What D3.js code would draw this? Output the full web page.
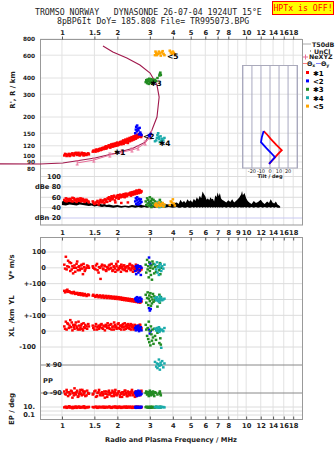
<!DOCTYPE html>
<html>
<head>
<meta charset="utf-8">
<script src="https://cdn.jsdelivr.net/npm/d3@7"></script>
<style>
body { margin: 0; background: #fff; }
svg { display: block; }
text { font-family: "DejaVu Sans", sans-serif; fill: #222; }
.mono { font-family: "DejaVu Sans Mono", monospace; }
</style>
</head>
<body>
<svg id="ionogram" width="335" height="451"></svg>
<script>
// tick labels
const topTicks = [1, 1.5, 2, 3, 4, 5, 6, 7, 8, 10, 12, 14, 16, 18]
const midTicks = [1, 1.5, 2, 3, 4, 5, 6, 7, 8, 9, 10, 12, 14, 16, 18]
const heightTicks = [80, 90, 100, 120, 150, 200, 300, 400, 600, 800]
const ampLabels = [[100, "100"], [80, "dBe 80"], [60, "60"], [40, "40"], [20, "dBn 20"]]
const dopLabels = [[100, "100"], [0, "0"], [-100, "+-100"], [-200, "0"], [-300, "+-100"], [-400, "0"], [-500, "-100"]]
const ppLabels = [[90, "x 90"], [-90, "o -90"]]
const epLabels = [[10, "10."], [0.1, "0.1"]]
const tiltTicks = [-20, -10, 0, 10, 20]

// echoes: [freq MHz, height km, amplitude dB, V* m/s, YL km, XL km, PP deg, EP deg]
const trace1 = [
  [1.03,101,55,20,55,30,-80,8],[1.04,104,53,-5,45,15,-95,10],[1.05,103,58,70,50,60,-100,12],
  [1.06,100,52,-10,58,10,-70,6],[1.07,102,57,10,62,50,-85,7],[1.08,102,56,45,48,45,-110,9],
  [1.09,104,53,5,52,20,-85,15],[1.1,100,55,35,50,35,-100,13],[1.11,101,57,-20,46,70,-95,7],
  [1.12,103,54,30,44,25,-75,10],[1.13,104,52,-10,40,55,-80,9],[1.14,105,59,10,45,5,-120,5],
  [1.15,102,52,-35,40,40,-90,11],[1.16,101,58,0,48,25,-105,6],[1.17,104,56,15,42,15,-60,8],
  [1.18,105,54,-25,35,40,-90,11],[1.19,106,55,0,38,55,-100,13],[1.2,103,51,25,37,30,-85,6],
  [1.21,102,56,40,42,20,-75,8],[1.22,105,57,-15,36,10,-115,9],[1.23,106,53,5,30,60,-110,12],
  [1.24,102,54,10,35,35,-95,12],[1.25,101,55,-15,40,10,-85,7],[1.26,104,58,-5,33,20,-70,7],
  [1.27,103,52,15,28,35,-95,10],[1.28,106,53,20,34,45,-105,10],[1.29,105,57,-5,38,15,-70,9],
  [1.3,103,56,-40,30,5,-80,8],[1.31,101,54,25,25,50,-100,13],[1.32,105,52,5,31,25,-90,14],
  [1.33,104,51,-20,35,20,-80,6],[1.34,102,55,-10,29,40,-110,6],[1.36,102,55,0,22,30,-105,10],
  [1.37,104,53,15,28,15,-75,9],[1.39,105,52,10,32,45,-90,8],[1.4,103,50,0,27,30,-95,11],
  [1.47,108,52,10,24,35,-100,10],[1.48,110,50,0,30,20,-95,9],[1.5,110,47,-5,23,10,-80,8],
  [1.52,108,48,-10,16,30,-75,11],[1.53,112,50,15,22,45,-115,12],[1.55,112,51,25,28,10,-110,7],
  [1.56,109,53,-15,21,25,-90,6],[1.58,110,46,-30,14,35,-85,12],[1.59,113,49,5,20,15,-70,9],
  [1.61,114,52,0,26,25,-100,8],[1.62,111,55,-70,20,40,-105,11],[1.64,112,50,10,12,45,-90,10],
  [1.65,115,51,20,19,20,-85,8],[1.67,116,53,-5,25,15,-105,9],[1.68,113,54,-10,18,35,-95,13],
  [1.7,114,49,15,10,30,-80,7],[1.71,117,56,10,17,5,-120,7],[1.73,119,55,-15,23,40,-95,11],
  [1.74,114,52,-20,17,30,-80,10],[1.76,116,51,5,9,20,-115,8],[1.77,118,58,0,16,50,-100,9],
  [1.79,120,57,-10,22,35,-85,10],[1.8,121,60,15,15,20,-75,12],[1.82,118,53,20,8,15,-100,12],
  [1.83,116,55,-5,14,40,-90,8],[1.85,123,59,0,20,45,-90,7],[1.86,120,62,25,14,10,-110,6],
  [1.88,118,56,-20,6,25,-75,9],[1.89,124,58,-15,13,30,-85,11],[1.91,122,61,10,18,10,-110,11],
  [1.92,119,63,5,12,55,-95,9],[1.94,125,54,-5,4,40,-85,8],[1.95,122,50,-25,12,25,-70,14],
  [1.97,120,59,25,17,30,-100,10],[1.98,126,61,10,11,15,-105,7],[2.0,127,62,-15,3,20,-95,6],
  [2.01,121,64,40,10,45,-90,10],[2.03,122,57,0,15,50,-80,12],[2.04,125,59,-10,9,20,-80,8],
  [2.06,126,63,10,1,15,-105,9],[2.07,128,65,0,8,35,-115,12],[2.09,129,60,-25,13,35,-90,7],
  [2.1,123,49,20,8,10,-95,6],[2.12,126,64,5,-2,25,-115,10],[2.13,129,63,-5,6,40,-85,9],
  [2.15,132,61,-10,10,45,-85,8],[2.16,124,66,15,5,25,-100,11],[2.18,127,65,15,-4,10,-100,11],
  [2.19,131,60,-15,4,50,-75,8],[2.21,134,62,0,8,30,-75,9],[2.22,127,67,5,3,15,-90,13],
  [2.24,129,66,-20,-6,40,-95,7],[2.25,133,62,-20,2,30,-110,7],[2.27,136,64,10,6,20,-110,12],
  [2.28,126,50,10,1,45,-80,10],[2.3,131,67,-5,-8,35,-85,8],[2.31,134,66,0,0,20,-95,9],
  [2.33,138,65,20,4,15,-100,10],[2.34,130,68,25,-1,35,-105,12],[2.36,133,69,-15,-10,45,-90,9],
  [2.37,137,63,-10,-2,10,-85,8],[2.39,140,66,0,2,25,-80,11],[2.4,132,69,15,-3,40,-70,6],
  [2.42,135,70,10,-12,30,-105,7],[2.43,139,65,-25,-4,25,-100,11],[2.45,142,68,-10,0,10,-95,10],
  [2.46,134,70,5,-5,15,-90,9],[2.48,137,71,5,-14,40,-85,8],[2.49,141,66,-5,-6,35,-115,7],
  [2.51,144,69,-20,-2,20,-110,12],[2.52,136,71,20,-7,20,-80,10],[2.54,139,73,15,-16,35,-90,9],
  [2.55,143,67,-15,-8,30,-95,8],[2.57,146,70,0,-4,15,-100,7],[2.58,139,72,0,-9,10,-105,12],
  [2.6,141,72,-5,-18,30,-80,11],[2.61,145,68,10,-10,25,-85,9],[2.63,148,74,10,-6,25,-95,8],
  [2.64,141,73,-20,-11,40,-100,6],[2.66,143,70,-15,-20,40,-105,10],[2.67,147,69,5,-12,15,-90,10],
  [2.69,140,72,0,-8,10,-85,9],[2.7,144,71,-10,-13,20,-75,8]
]
const trace2 = [
  [2.5,150,52,-20,5,20,-90,8],[2.52,160,58,10,-5,5,-80,12],[2.53,168,47,-40,10,30,-100,6],
  [2.55,155,55,0,-10,15,-110,10],[2.56,172,60,-10,15,25,-85,9],[2.58,163,50,15,0,10,-95,7],
  [2.6,158,46,-30,-15,35,-75,11],[2.62,147,57,5,8,0,-105,8],[2.64,165,53,-15,-8,20,-90,10],
  [2.66,152,48,10,12,15,-80,9],[2.68,148,56,-45,-12,25,-100,7],[2.7,145,51,0,3,5,-95,12],
  [2.97,145,50,65,-55,10,-90,8],[3.0,142,47,30,-70,-15,-85,9],[3.03,148,45,20,-60,0,-95,7]
]
const trace3 = [
  [2.85,372,52,20,30,40,-90,9],[2.87,385,45,-30,-20,10,-80,12],[2.9,365,58,50,10,-30,-100,8],
  [2.92,390,48,-10,45,20,-95,10],[2.94,378,55,10,-35,-50,-85,7],[2.96,360,43,-60,5,60,-110,11],
  [2.98,395,50,35,25,-70,-90,9],[3.0,370,60,-20,-10,0,-75,8],[3.02,382,46,0,40,-90,-95,10],
  [3.04,368,53,-45,-40,30,-105,12],[3.06,392,41,15,15,-20,-85,7],[3.08,375,57,-75,-25,-60,-100,9],
  [3.1,362,49,40,0,10,-90,11],[3.12,386,44,-5,35,-40,-80,8],[3.14,372,55,25,-15,-80,-95,10],
  [3.17,380,47,-35,20,15,-110,9],[3.2,388,52,5,-5,-30,-85,7],[3.24,378,45,-25,10,-55,-90,12],
  [3.3,400,50,10,-45,-10,-100,8],[3.38,418,48,-15,30,-75,-90,10],[3.4,430,55,30,-20,5,-80,9],
  [3.42,440,43,-40,0,-45,-95,11],[3.44,422,50,0,15,-85,-105,8]
]
const trace4 = [
  [3.2,130,46,20,10,15,110,9],[3.25,132,43,-10,-5,5,80,12],[3.28,138,49,35,15,20,100,8],
  [3.3,145,42,-30,0,0,70,10],[3.33,150,51,5,-10,10,95,11],[3.36,140,45,-45,5,25,125,7],
  [3.38,135,41,15,-15,-5,85,9],[3.4,128,48,0,20,15,60,10],[3.43,142,44,25,0,5,105,8],
  [3.46,130,47,-20,10,-105,90,12],[3.5,136,42,10,-5,10,115,9],[3.55,132,46,-5,0,0,75,10],
  [3.6,138,43,20,5,20,100,8]
]
// trace 5 has only height and amplitude
const trace5 = [
  [3.2,600,46],[3.22,640,44],[3.25,625,48],[3.28,600,42],[3.32,615,45],[3.36,640,50],
  [3.4,620,43],[3.44,595,47],[3.48,630,44],[3.52,645,49],[3.56,615,42],[3.6,600,46],
  [3.85,650,45],[3.9,630,52],[3.95,615,50],[4.0,640,56],[4.05,625,48],[4.1,610,44]
]
// trace label points [freq, height]
const traceMarks = [[1.99, 107], [2.86, 142], [3.13, 366], [3.49, 126], [3.86, 591]]

// real height profile and NeXYZ trace [freq, height]
const profile = [
  [0.45,87],[0.76,86.8],[1.01,88.4],[1.51,96.6],[1.94,105],[2.43,115],[2.83,128],[3.08,159],
  [3.28,200],[3.37,285],[3.28,353],[3.01,437],[2.65,504],[2.25,570],[1.89,634],[1.67,706]
]
const neXYZ = [[1.21,88.4],[1.49,93.1],[1.82,101.8],[2.12,107.4],[2.4,111.3],[2.59,115.3],[2.83,126],[3.01,140],[3.08,159]]

// tilt vs height [height km, tilt deg]
const thetaX = [[87,-1],[95,4],[104,9],[111,13],[122,7],[135,1],[146,-3],[156,-7]]
const thetaY = [[87,-1],[92,2],[98,5.5],[106,1],[115,-4],[128,-10],[140,-9],[156,-7]]

// noise amplitude [freq, low dB, high dB]
const noise = [
  [1.0,45,52],[1.05,44,54],[1.1,46,51],[1.15,45,53],[1.2,44,50],[1.25,46,52],[1.3,45,49],[1.35,44,51],
  [1.4,43,50],[1.45,44,48],[1.5,42,49],[1.55,43,47],[1.6,42,48],[1.65,41,46],[1.7,42,47],[1.75,41,45],
  [1.8,41,46],[1.9,40,44],[2.0,41,45],[2.1,40,43],[2.2,41,44],[2.3,40,43],[2.4,41,45],[2.5,40,44],
  [2.6,41,46],[2.7,40,45],[2.8,41,44],[2.9,40,43],[3.0,41,45],[3.2,40,44],[3.4,41,45],[3.6,40,47],
  [3.8,41,46],[4.0,40,48],[4.2,41,50],[4.3,40,47],[4.4,40,55],[4.5,41,50],[4.6,40,53],[4.7,40,49],
  [4.8,41,56],[4.9,40,52],[5.0,40,54],[5.1,41,50],[5.2,40,57],[5.3,41,53],[5.4,40,60],[5.5,41,55],
  [5.6,40,63],[5.7,41,58],[5.8,40,71],[5.9,41,66],[6.0,40,62],[6.1,41,55],[6.2,40,58],[6.3,41,54],
  [6.4,40,60],[6.5,41,56],[6.6,40,57],[6.7,41,52],[6.8,40,64],[6.9,41,60],[7.0,40,69],[7.1,41,62],
  [7.2,40,68],[7.3,41,58],[7.4,40,55],[7.6,41,53],[7.8,40,50],[8.0,41,54],[8.2,40,51],[8.4,41,56],
  [8.6,40,50],[8.8,41,53],[9.0,40,56],[9.2,41,60],[9.4,40,66],[9.5,41,72],[9.6,40,64],[9.8,41,68],
  [10.0,40,58],[10.2,41,53],[10.4,40,50],[10.7,41,47],[11.0,40,53],[11.3,41,49],[11.6,40,51],[12.0,41,55],
  [12.3,40,50],[12.6,41,47],[13.0,40,52],[13.3,41,49],[13.6,40,56],[13.9,41,50],[14.2,40,48],[14.5,41,52],
  [14.8,40,46],[15.1,40,44],[15.3,40,42]
]

const colors = ["#ff0000", "#0000ff", "#228b22", "#1aabab", "#ffa500"]
const markNames = ["\u27311", "<2", "\u27313", "\u27314", "<5"]
const traces = [trace1, trace2, trace3, trace4, trace5]

const svg = d3.select("#ionogram")
const L = 40, R = 302

// scales
const x = d3.scaleLog().domain([0.76, 20.1]).range([L, R])
const yH = d3.scaleLog().domain([80, 800]).range([168.6, 39])
const yA = d3.scaleLinear().domain([20, 100]).range([218, 176.5])
const yD = d3.scaleLinear().domain([-500, 100]).range([347, 252]) // V*, YL (-200) and XL (-400) stacked
const yP = d3.scaleLinear().domain([-90, 90]).range([393, 365])
const yE = d3.scaleLog().domain([0.1, 10]).range([415, 407])
const xT = d3.scaleLinear().domain([-31, 31]).range([242, 298])

// title
svg.append("text").attr("class", "mono").attr("x", 35).attr("y", 15).attr("font-size", 8.2)
  .attr("xml:space", "preserve").text("TROMSO NORWAY   DYNASONDE 26-07-04 1924UT 15\u00b0E")
svg.append("text").attr("class", "mono").attr("x", 57).attr("y", 24).attr("font-size", 8.2)
  .text("8pBP6It DoY= 185.808 File= TR995073.BPG")
svg.append("rect").attr("x", 272.5).attr("y", 1.5).attr("width", 61).attr("height", 13)
  .attr("fill", "#ffff00").attr("stroke", "#ff0000")
svg.append("text").attr("class", "mono").attr("x", 303).attr("y", 11).attr("font-size", 8.2)
  .attr("text-anchor", "middle").style("fill", "#ff0000").text("HPTx is OFF!")

// vertical grid, both panels
const grid = svg.append("g").attr("stroke", "#e2e2e2")
;[[39.5, 225], [237, 419]].forEach(([a, b]) => {
  grid.selectAll(null).data(midTicks).join("line")
    .attr("x1", d => x(d)).attr("x2", d => x(d)).attr("y1", a).attr("y2", b)
})

// horizontal grids
const hGrid = (vals, sc, col) => svg.append("g").selectAll("line").data(vals).join("line")
  .attr("x1", L).attr("x2", R).attr("y1", d => sc(d)).attr("y2", d => sc(d)).attr("stroke", col)
hGrid(heightTicks, yH, "#e2e2e2")
hGrid([100, 80, 60, 40], yA, "#dcdcdc")
hGrid([20], yA, "#c8c8f0")
hGrid(dopLabels.map(d => d[0]), yD, "#dcdcdc")
hGrid([10, 1, 0.1], yE, "#dcdcdc")
hGrid([90, -90], yP, "#888")

// frames
svg.append("rect").attr("x", L + 0.5).attr("y", 39.5).attr("width", R - L).attr("height", 185.5)
  .attr("fill", "none").attr("stroke", "#999")
svg.append("rect").attr("x", L + 0.5).attr("y", 237.5).attr("width", R - L).attr("height", 182)
  .attr("fill", "none").attr("stroke", "#999")

// frequency axes
const fmt = d3.format("")
const freqAxis = (gen, ticks, ty) => {
  const g = svg.append("g").attr("transform", `translate(0,${ty})`)
    .call(gen(x).tickValues(ticks).tickFormat(fmt).tickSize(3).tickPadding(2))
  g.select(".domain").remove()
  g.selectAll("line").attr("stroke", "#555")
  g.selectAll("text").attr("font-size", 6.7).style("font-weight", "bold").attr("fill", "#222")
  return g
}
freqAxis(d3.axisTop, topTicks, 39.5)
const mid = freqAxis(d3.axisTop, midTicks, 237.5)
mid.selectAll("line").attr("y2", 3)
mid.selectAll("text").attr("y", -3)
const bot = freqAxis(d3.axisBottom, topTicks, 419.5)
bot.selectAll("line").attr("y2", -3)
bot.selectAll("text").attr("y", 4)
svg.append("text").attr("x", 171).attr("y", 442).attr("text-anchor", "middle")
  .attr("font-size", 6.7).style("font-weight", "bold").text("Radio and Plasma Frequency / MHz")

// height axis labels
const hAx = svg.append("g").attr("transform", `translate(${L},0)`)
  .call(d3.axisLeft(yH).tickValues(heightTicks).tickFormat(fmt).tickSize(0).tickPadding(5))
hAx.select(".domain").remove()
hAx.selectAll("text").attr("font-size", 5.8).style("font-weight", "bold").attr("fill", "#222")

// left labels for other panels
const leftLabels = (rows, sc, xr) => svg.append("g").selectAll("text").data(rows).join("text")
  .attr("x", d => (typeof xr === "function" ? xr(d) : xr)).attr("y", d => sc(d[0])).attr("dy", "0.35em")
  .attr("text-anchor", "end").attr("font-size", 6.7).style("font-weight", "bold").text(d => d[1])
leftLabels(ampLabels, yA, 61)
leftLabels(dopLabels, yD, d => (d[0] === -500 ? 36 : 46))
leftLabels(ppLabels, yP, 62)
leftLabels(epLabels, yE, 35)
svg.append("text").attr("x", 43).attr("y", 383).attr("font-size", 6.7).style("font-weight", "bold").text("PP")

// rotated axis titles
const vTitle = (t, cx, cy) => svg.append("text").attr("transform", `translate(${cx},${cy}) rotate(-90)`)
  .attr("text-anchor", "middle").attr("font-size", 7).style("font-weight", "bold").text(t)
vTitle("R', R / km", 15, 90)
vTitle("V* m/s", 14, 267)
vTitle("YL", 14, 300)
vTitle("/km", 14, 316)
vTitle("XL", 14, 332)
vTitle("EP / deg", 14, 409)

// noise area
svg.append("path").datum(noise)
  .attr("d", d3.area().x(d => x(d[0])).y0(d => yA(d[1])).y1(d => yA(d[2])))
  .attr("fill", "#000")

// profile and NeXYZ
svg.append("path").datum(profile)
  .attr("d", d3.line().x(d => x(d[0])).y(d => yH(d[1])))
  .attr("fill", "none").attr("stroke", "#a0184c").attr("stroke-width", 1.1)
svg.append("path").datum(neXYZ)
  .attr("d", d3.line().x(d => x(d[0])).y(d => yH(d[1])))
  .attr("fill", "none").attr("stroke", "#e8709a").attr("stroke-width", 1)
svg.append("g").selectAll("path").data(neXYZ.slice(0, -1)).join("path")
  .attr("d", d => { const cx = x(d[0]), cy = yH(d[1]); return `M${cx - 1.5},${cy - 2}h3M${cx},${cy - 2}v4M${cx - 1.5},${cy + 2}h3` })
  .attr("stroke", "#e8709a").attr("fill", "none")

// echoes in every panel
const dot = (g, data, fx, fy, col) => g.selectAll(null).data(data).join("rect")
  .attr("x", d => fx(d) - 1.3).attr("y", d => fy(d) - 1.2).attr("width", 2.6).attr("height", 2.4).attr("fill", col)
traces.forEach((tr, i) => {
  const g = svg.append("g")
  const col = colors[i]
  dot(g, tr, d => x(d[0]), d => yH(d[1]), col)
  dot(g, tr, d => x(d[0]), d => yA(d[2]), col)
  const full = tr.filter(d => d.length > 3)
  dot(g, full, d => x(d[0]), d => yD(d[3]), col)
  dot(g, full, d => x(d[0]), d => yD(d[4] - 200), col)
  dot(g, full, d => x(d[0]), d => yD(d[5] - 400), col)
  dot(g, full, d => x(d[0]), d => yP(d[6]), col)
  dot(g, full, d => x(d[0]), d => yE(d[7]), col)
})

// trace labels
svg.append("g").selectAll("text").data(traceMarks).join("text")
  .attr("x", d => x(d[0]) - 3).attr("y", d => yH(d[1])).attr("dy", "0.35em")
  .attr("font-size", 7.5).style("font-weight", "bold").style("fill", "#000")
  .text((d, i) => markNames[i])

// tilt inset
const inset = svg.append("g")
inset.append("rect").attr("x", 242.5).attr("y", 65.5).attr("width", 55).attr("height", 102.5)
  .attr("fill", "#fff").attr("stroke", "#aab")
inset.selectAll("line.h").data(heightTicks.filter(d => yH(d) > 66 && yH(d) < 168)).join("line")
  .attr("x1", 243).attr("x2", 297).attr("y1", d => yH(d)).attr("y2", d => yH(d)).attr("stroke", "#e2e2e2")
inset.selectAll("line.v").data([-30, -20, -10, 0, 10, 20, 30]).join("line")
  .attr("x1", d => xT(d)).attr("x2", d => xT(d)).attr("y1", 66).attr("y2", 168).attr("stroke", "#a8a8c0")
inset.selectAll("text.t").data(tiltTicks).join("text")
  .attr("x", d => xT(d)).attr("y", 172.5).attr("text-anchor", "middle").attr("font-size", 5).text(d => d)
inset.append("text").attr("x", 270).attr("y", 178).attr("text-anchor", "middle").attr("font-size", 5)
  .style("font-weight", "bold").text("Tilt / deg")
const tiltLine = d3.line().x(d => xT(d[1])).y(d => yH(d[0]))
inset.append("path").datum(thetaX).attr("d", tiltLine).attr("fill", "none").attr("stroke", "#ff0000").attr("stroke-width", 1.8)
inset.append("path").datum(thetaY).attr("d", tiltLine).attr("fill", "none").attr("stroke", "#0000ff").attr("stroke-width", 1.8)

// legend
const lg = svg.append("g").attr("font-size", 6.3).style("font-weight", "bold")
lg.append("line").attr("x1", 303).attr("x2", 311).attr("y1", 44).attr("y2", 44).attr("stroke", "#aaa")
lg.append("text").attr("x", 312).attr("y", 46.5).text("T50dB")
lg.append("rect").attr("x", 310).attr("y", 50.5).attr("width", 1).attr("height", 1).attr("fill", "#444")
lg.append("text").attr("x", 314).attr("y", 53.5).text("UnCl")
lg.append("path").attr("d", "M303,57h5M305.5,54.5v5").attr("stroke", "#e8709a")
lg.append("text").attr("x", 309).attr("y", 59).text("NeXYZ")
lg.append("line").attr("x1", 303).attr("x2", 307).attr("y1", 63.5).attr("y2", 63.5).attr("stroke", "#ff8080")
lg.append("text").attr("x", 307).attr("y", 66).html("\u0398<tspan font-size='4.5' dy='1'>x</tspan>")
lg.append("line").attr("x1", 316).attr("x2", 321).attr("y1", 63.5).attr("y2", 63.5).attr("stroke", "#8080ff")
lg.append("text").attr("x", 321).attr("y", 66).html("\u0398<tspan font-size='4.5' dy='1'>y</tspan>")
lg.selectAll("rect.k").data(colors).join("rect")
  .attr("x", 306).attr("y", (d, i) => 71 + i * 8.4).attr("width", 3).attr("height", 3).attr("fill", d => d)
lg.selectAll("text.k").data(markNames).join("text")
  .attr("x", 313).attr("y", (d, i) => 75.5 + i * 8.4).attr("font-size", 7).style("fill", "#000").text(d => d)
</script>
</body>
</html>
